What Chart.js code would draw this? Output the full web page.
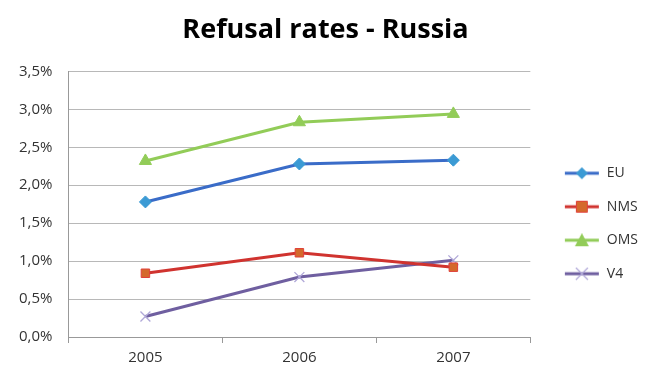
<!DOCTYPE html>
<html>
<head>
<meta charset="utf-8">
<script src="https://cdn.jsdelivr.net/npm/chart.js@4/dist/chart.umd.min.js"></script>
<style>
  html, body { margin: 0; padding: 0; background: #fff; }
  #wrap { width: 648px; height: 374px; }
</style>
</head>
<body>
<div id="wrap"><canvas id="refusalChart" width="648" height="374"></canvas></div>
<script>
const years = ['2005', '2006', '2007'];
const euValues = [1.78, 2.28, 2.33];
const nmsValues = [0.84, 1.11, 0.92];
const omsValues = [2.32, 2.83, 2.94];
const v4Values = [0.27, 0.79, 1.01];
const yTicks = [0, 0.5, 1, 1.5, 2, 2.5, 3, 3.5];

// legend swatch: line with the marker on it, like the spreadsheet legend
// (transparent left margin pushes it away from the plot)
const SW_W = 50, SW_M = 15;
function swatch(lineColor, marker, fill, border) {
    const c = document.createElement('canvas');
    c.width = SW_W; c.height = 14;
    const g = c.getContext('2d');
    const x0 = SW_M, x1 = SW_W - 1, cx = (x0 + x1) / 2;
    g.strokeStyle = lineColor;
    g.lineWidth = 3;
    g.beginPath(); g.moveTo(x0, 7); g.lineTo(x1, 7); g.stroke();
    g.fillStyle = fill;
    g.strokeStyle = border;
    g.lineWidth = 1;
    g.beginPath();
    if (marker === 'diamond') {
        g.moveTo(cx, 1); g.lineTo(cx + 6, 7); g.lineTo(cx, 13); g.lineTo(cx - 6, 7); g.closePath();
        g.fill();
    } else if (marker === 'square') {
        g.rect(cx - 5.5, 1.5, 11, 11); g.fill(); g.stroke();
    } else if (marker === 'triangle') {
        g.moveTo(cx, 0); g.lineTo(cx + 7, 13); g.lineTo(cx - 7, 13); g.closePath(); g.fill();
    } else {
        g.lineWidth = 1.2;
        g.moveTo(cx - 6, 1); g.lineTo(cx + 6, 13); g.moveTo(cx + 6, 1); g.lineTo(cx - 6, 13); g.stroke();
    }
    return c;
}

const series = [
    { label: 'EU', data: euValues, color: '#3a6cc8', marker: 'rectRot', fill: '#3b9ad4', border: '#3b9ad4', radius: 6, sw: swatch('#3a6cc8', 'diamond', '#3b9ad4', '#3b9ad4') },
    { label: 'NMS', data: nmsValues, color: '#d0332f', marker: 'rect', fill: '#d4692c', border: '#e0403a', radius: 6, sw: swatch('#d0332f', 'square', '#d4692c', '#e0403a') },
    { label: 'OMS', data: omsValues, color: '#92cc58', marker: 'triangle', fill: '#92cc58', border: '#92cc58', radius: 7, sw: swatch('#92cc58', 'triangle', '#92cc58', '#92cc58') },
    { label: 'V4', data: v4Values, color: '#6f5fa0', marker: 'crossRot', fill: '#b0a8d8', border: '#b0a8d8', radius: 7, sw: swatch('#6f5fa0', 'cross', '#b0a8d8', '#b0a8d8') }
];

const ctx = document.getElementById('refusalChart').getContext('2d');
new Chart(ctx, {
    type: 'line',
    data: {
        labels: years,
        datasets: series.map(s => ({
            label: s.label,
            data: s.data,
            borderColor: s.color,
            borderWidth: 3,
            backgroundColor: s.fill,
            pointStyle: s.marker,
            pointRadius: s.radius,
            pointBackgroundColor: s.fill,
            pointBorderColor: s.border,
            pointBorderWidth: s.marker === 'crossRot' ? 1.3 : 1,
            tension: 0,
            fill: false
        }))
    },
    options: {
        responsive: false,
        animation: false,
        layout: { padding: { left: 3, right: 0, top: 0, bottom: 1 } },
        plugins: {
            title: {
                display: true,
                text: 'Refusal rates - Russia',
                color: '#000',
                font: { family: 'Open Sans', size: 27, weight: 'bold' },
                padding: { top: 14, bottom: 25 }
            },
            legend: {
                position: 'right',
                // blank title only used to push the items down
                title: { display: true, text: ' ', font: { size: 10 }, padding: { top: 62, bottom: 0 } },
                labels: {
                    color: '#333',
                    font: { family: 'Open Sans', size: 14 },
                    usePointStyle: true,
                    pointStyleWidth: SW_W,
                    padding: 19.5,
                    generateLabels: chart => series.map((s, i) => ({
                        text: s.label,
                        pointStyle: s.sw,
                        datasetIndex: i,
                        fontColor: '#333',
                        hidden: false
                    }))
                }
            },
            tooltip: { enabled: false }
        },
        scales: {
            x: {
                offset: true,
                grid: { offset: true, drawOnChartArea: false, drawTicks: true, tickLength: 6, color: '#999' },
                border: { color: '#999' },
                ticks: { color: '#333', font: { family: 'Open Sans', size: 15 }, padding: 6 }
            },
            y: {
                min: 0,
                max: 3.5,
                afterBuildTicks: axis => { axis.ticks = yTicks.map(v => ({ value: v })); },
                grid: { color: '#b8b8b8', drawTicks: false, lineWidth: 1 },
                border: { color: '#999' },
                ticks: {
                    color: '#333',
                    font: { family: 'Open Sans', size: 15 },
                    padding: 16,
                    callback: v => v.toFixed(1).replace('.', ',') + '%'
                }
            }
        }
    }
});
</script>
</body>
</html>
